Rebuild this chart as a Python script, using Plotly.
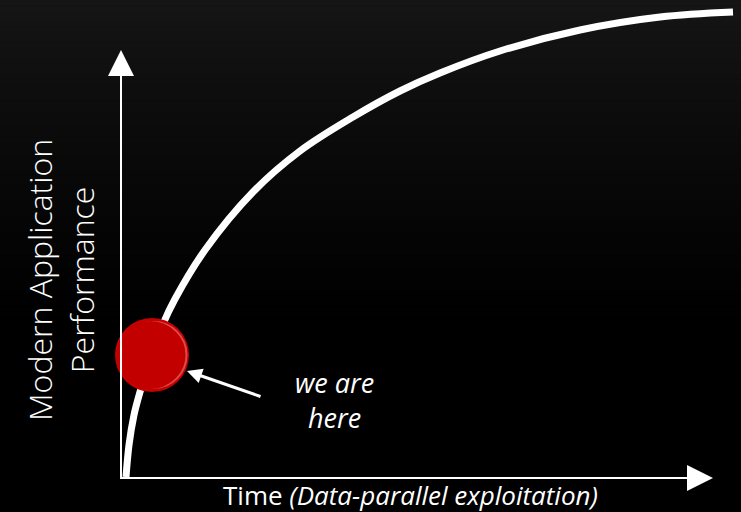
import plotly.graph_objects as go

# ---- data (x = time, y = performance) ----
curve_time = [5, 8, 13, 19, 30, 42, 54, 84, 132, 179, 232, 279, 319, 379, 459, 539, 612]
curve_perf = [1, 33, 63, 86, 122, 154, 179, 228, 286, 327, 361, 387, 405, 427, 448, 461, 466]

here_time = [31]
here_perf = [123]

arrow_tail = (141, 81)
arrow_head = (66, 107)

label_pos = (213, 78)
x_title = "Time <i>(Data-parallel exploitation)</i>"
y_title = "Modern Application<br>Performance"
here_text = "<i>we are<br>here</i>"

# ---- layout constants ----
W, H = 741, 512
X_RANGE = [-121, 620]
Y_RANGE = [-34, 478]
X_AXIS_END = 566
Y_AXIS_END = 402
HEAD = 26
HALF = 13

fig = go.Figure()

# background gradient bands (paper coordinates)
shapes = []
n_bands = 64
for i in range(n_bands):
    t = i / (n_bands - 1)
    v = int(round(21 * (1 - t) ** 1.3))
    y1 = 1 - i * 0.66 / n_bands
    y0 = 1 - (i + 1) * 0.66 / n_bands
    shapes.append(dict(type="rect", xref="paper", yref="paper", x0=0, x1=1,
                       y0=y0 - 0.001, y1=y1, fillcolor=f"rgb({v},{v},{v})",
                       line=dict(width=0), layer="below"))

# axes lines and arrowheads
shapes.append(dict(type="line", xref="x", yref="y", x0=-1, y0=0, x1=X_AXIS_END, y1=0,
                   line=dict(color="white", width=2)))
shapes.append(dict(type="line", xref="x", yref="y", x0=0, y0=0, x1=0, y1=Y_AXIS_END,
                   line=dict(color="white", width=2)))
shapes.append(dict(type="path", xref="x", yref="y",
                   path=f"M {X_AXIS_END},{-HALF} L {X_AXIS_END + HEAD},0 L {X_AXIS_END},{HALF} Z",
                   fillcolor="white", line=dict(width=0)))
shapes.append(dict(type="path", xref="x", yref="y",
                   path=f"M {-HALF},{Y_AXIS_END} L 0,{Y_AXIS_END + HEAD} L {HALF},{Y_AXIS_END} Z",
                   fillcolor="white", line=dict(width=0)))

fig.add_trace(go.Scatter(x=curve_time, y=curve_perf, mode="lines",
                         line=dict(color="white", width=7, shape="spline", smoothing=1.0),
                         hoverinfo="skip", showlegend=False))

fig.add_trace(go.Scatter(x=here_time, y=here_perf, mode="markers",
                         marker=dict(size=74, color="#c80000",
                                     gradient=dict(type="radial", color="#9a0000"),
                                     line=dict(width=0)),
                         hoverinfo="skip", showlegend=False))
# rim highlight on the right side of the ball
fig.add_trace(go.Scatter(x=[here_time[0] + 1.5], y=here_perf, mode="markers",
                         marker=dict(size=66, color="rgba(0,0,0,0)",
                                     line=dict(width=2, color="rgba(240,120,120,0.6)")),
                         hoverinfo="skip", showlegend=False))
fig.add_trace(go.Scatter(x=[here_time[0] - 1.5], y=here_perf, mode="markers",
                         marker=dict(size=68, color="#c20000", line=dict(width=0)),
                         hoverinfo="skip", showlegend=False))

annotations = [
    dict(x=arrow_head[0], y=arrow_head[1], ax=arrow_tail[0], ay=arrow_tail[1],
         xref="x", yref="y", axref="x", ayref="y", text="", showarrow=True,
         arrowhead=2, arrowsize=1.0, arrowwidth=3, arrowcolor="white", standoff=0),
    dict(x=label_pos[0], y=label_pos[1], xref="x", yref="y", text=here_text,
         showarrow=False, font=dict(family="Open Sans", size=27, color="white"),
         align="center"),
    dict(x=289, y=-17, xref="x", yref="y", text=x_title, showarrow=False,
         font=dict(family="Open Sans", size=26, color="white")),
    dict(x=-61, y=198, xref="x", yref="y", text=y_title, showarrow=False, textangle=-90,
         font=dict(family="Open Sans", size=32, color="white", weight=300), align="center"),
]

fig.update_layout(
    width=W, height=H, margin=dict(l=0, r=0, t=0, b=0),
    paper_bgcolor="black", plot_bgcolor="black",
    xaxis=dict(range=X_RANGE, visible=False, fixedrange=True),
    yaxis=dict(range=Y_RANGE, visible=False, fixedrange=True),
    shapes=shapes, annotations=annotations, showlegend=False,
)

fig.write_html("out.html", config={"displayModeBar": False},
               post_script="document.body.style.margin='0';document.body.style.overflow='hidden';")
